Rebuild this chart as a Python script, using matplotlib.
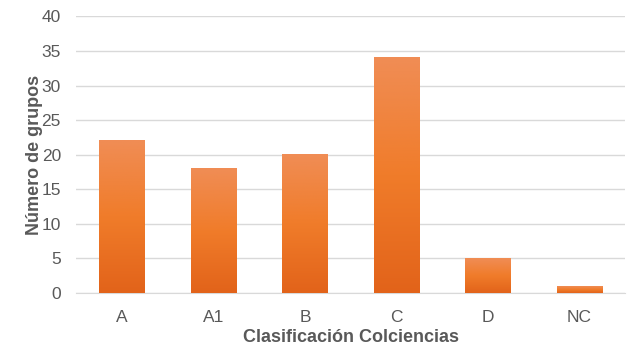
import numpy as np
import matplotlib.pyplot as plt
from matplotlib.colors import LinearSegmentedColormap

categorias = ['A', 'A1', 'B', 'C', 'D', 'NC']
grupos = [22, 18, 20, 34, 5, 1]

plt.rcParams['font.family'] = ['Liberation Sans', 'DejaVu Sans']
gris = '#595959'

fig = plt.figure(figsize=(6.4, 3.64), dpi=100)
ax = fig.add_axes([0.119, 0.195, 0.858, 0.76])

x = np.arange(len(categorias))
barras = ax.bar(x, grupos, width=0.5, color='#EE7A2C', zorder=2)

# degradado naranja (claro arriba, oscuro abajo)
cmap = LinearSegmentedColormap.from_list('nar', ['#E2631A', '#F07C2A', '#F08D55'])
grad = np.linspace(0, 1, 256).reshape(-1, 1)
for b in barras:
    x0, w, h = b.get_x(), b.get_width(), b.get_height()
    ax.imshow(grad, cmap=cmap, origin='lower', aspect='auto',
              extent=[x0, x0 + w, 0, h], zorder=3)

ax.set_xlim(-0.5, len(categorias) - 0.5)
ax.set_ylim(0, 40)
ax.set_yticks(range(0, 41, 5))
ax.set_xticks(x)
ax.set_xticklabels(categorias)
ax.yaxis.grid(True, color='#D9D9D9', linewidth=1, zorder=0)
for s in ['top', 'right', 'left']:
    ax.spines[s].set_visible(False)
ax.spines['bottom'].set_color('#D9D9D9')
ax.tick_params(length=0, labelsize=12.5, colors=gris)
ax.tick_params(axis='x', pad=12)
ax.tick_params(axis='y', pad=11)

ax.set_xlabel('Clasificación Colciencias', fontsize=13, fontweight='bold', color=gris, labelpad=3)
ax.set_ylabel('Número de grupos', fontsize=13, fontweight='bold', color=gris, labelpad=-1)

fig.savefig('out.png', dpi=100)
